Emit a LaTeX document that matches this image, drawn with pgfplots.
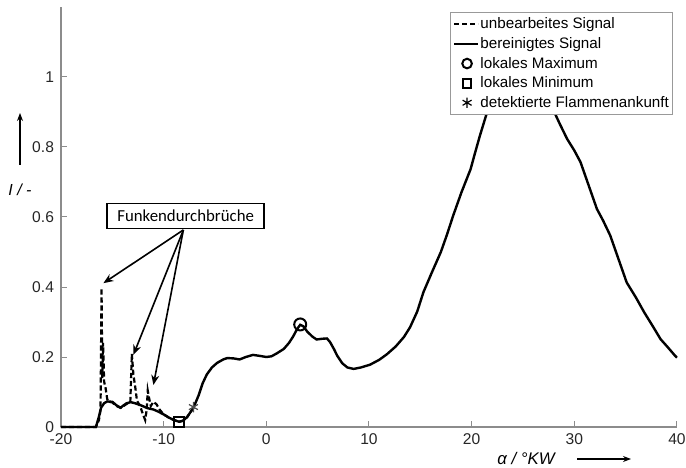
\documentclass[border=0pt]{standalone}
\usepackage{fontspec}
\setmainfont{Liberation Sans}
\newfontfamily\calibri{Carlito}
\usepackage{pgfplots}
\pgfplotsset{compat=1.18}
\usetikzlibrary{arrows.meta}
\pgfplotsset{
  lineleg/.style={legend image code/.code={\draw[##1] (0pt,0pt) -- (12pt,0pt);}},
  markleg/.style={legend image code/.code={\draw[##1,mark size=#1] plot coordinates {(6.5pt,0pt)};}},
  starleg/.style={legend image code/.code={\draw[##1,black,mark size=2.6pt] plot coordinates {(6.5pt,0pt)};}},
}
\begin{document}
\begin{tikzpicture}
\begin{axis}[
  scale only axis, width=308pt, height=210pt,
  xmin=-20, xmax=40, ymin=0, ymax=1.2,
  axis lines*=left,
  axis line style={black!45, line width=0.6pt},
  xtick={-20,-10,0,10,20,30,40},
  ytick={0,0.2,0.4,0.6,0.8,1},
  tick align=inside, major tick length=3pt,
  tick style={black!45, line width=0.5pt},
  tick label style={font=\fontsize{7.8}{9}\selectfont, text=black!85},
  /pgf/number format/assume math mode=true,
  clip=false,
  legend cell align=left,
  legend style={at={(rel axis cs:0.9935,0.988)}, anchor=north east,
    draw=black!40, fill=white, line width=0.5pt,
    font=\fontsize{7.6}{9}\selectfont,
    inner xsep=1.2pt, inner ysep=1pt, row sep=0pt,
    nodes={inner sep=0.6pt, text height=6.6pt, text depth=2pt},
    /tikz/every even column/.append style={column sep=0pt}},
]
\coordinate (BL) at (rel axis cs:0,0);
% unbearbeitetes Signal
\addplot[black, line width=1.1pt, dash pattern=on 2.6pt off 1.4pt, lineleg]
coordinates {
(-20,0) (-16.6,0) (-16.3,0.02) (-16.15,0.05) (-16.05,0.397) (-15.98,0.14)
(-15.9,0.24) (-15.8,0.13) (-15.65,0.11) (-15.5,0.08) (-15.3,0.072)
(-15.0,0.07) (-14.6,0.06) (-14.2,0.055) (-13.9,0.06) (-13.5,0.068)
(-13.25,0.07) (-13.1,0.209) (-12.95,0.15) (-12.75,0.11) (-12.6,0.075)
(-12.3,0.06) (-12.0,0.035) (-11.8,0.02) (-11.65,0.05) (-11.55,0.104)
(-11.4,0.08) (-11.25,0.06) (-11.0,0.072) (-10.7,0.065) (-10.4,0.05)
(-10.0,0.036) (-9.5,0.027) (-9.0,0.02) (-8.5,0.015) (-8.1,0.018)
(-7.7,0.029) (-7.1,0.055)
};
\addlegendentry{unbearbeites Signal}
% bereinigtes Signal
\addplot[black, line width=1.2pt, lineleg]
coordinates {
(-20,0) (-16.6,0) (-16.3,0.03) (-16.1,0.055) (-15.8,0.068) (-15.5,0.073)
(-15.0,0.072) (-14.6,0.062) (-14.2,0.055) (-13.9,0.062) (-13.6,0.068)
(-13.2,0.071) (-12.8,0.068) (-12.3,0.063) (-11.9,0.058) (-11.6,0.054)
(-11.0,0.05) (-10.6,0.045) (-10.0,0.036) (-9.5,0.027) (-9.0,0.02)
(-8.5,0.015) (-8.1,0.018) (-7.7,0.029) (-7.1,0.055) (-6.6,0.09)
(-6.2,0.125) (-5.8,0.15) (-5.3,0.17) (-4.8,0.183) (-4.2,0.193)
(-3.8,0.197) (-3.2,0.196) (-2.6,0.193) (-2.0,0.2) (-1.3,0.206)
(-0.6,0.203) (0.0,0.2) (0.5,0.202) (1.0,0.21) (1.7,0.223) (2.2,0.24)
(2.6,0.258) (3.0,0.28) (3.3,0.292) (3.6,0.288) (4.0,0.272) (4.5,0.258)
(4.9,0.25) (5.4,0.252) (5.9,0.253) (6.2,0.243) (6.6,0.222) (6.9,0.204)
(7.4,0.182) (7.9,0.17) (8.5,0.166) (9.2,0.17) (10.1,0.178) (11.0,0.192)
(11.75,0.208) (12.6,0.23) (13.4,0.257) (14.0,0.285) (14.7,0.33)
(15.3,0.385) (16.1,0.44) (17.0,0.5) (17.6,0.55) (18.2,0.604) (19.0,0.67)
(19.9,0.737) (20.3,0.78) (20.8,0.832) (21.3,0.88) (21.8,0.928)
(22.5,0.97) (23.2,1.0) (24.0,1.02) (24.8,1.03) (25.5,1.02) (26.3,0.99)
(27.1,0.95) (27.9,0.909) (28.6,0.865) (29.3,0.823) (30.0,0.79)
(30.6,0.757) (31.4,0.69) (32.2,0.623) (32.8,0.59) (33.5,0.547)
(34.3,0.48) (35.1,0.413) (36.0,0.37) (36.8,0.328) (37.6,0.29)
(38.4,0.251) (39.1,0.228) (39.8,0.204) (40,0.198)
};
\addlegendentry{bereinigtes Signal}
% lokales Maximum
\addplot[only marks, mark=o, mark size=3pt, black, line width=1pt, markleg=2.4pt]
coordinates {(3.3,0.293)};
\addlegendentry{lokales Maximum}
% lokales Minimum
\addplot[only marks, mark=square, mark size=2.5pt, black, line width=1pt, markleg=2.2pt]
coordinates {(-8.5,0.015)};
\addlegendentry{lokales Minimum}
% Flammenankunft
\addplot[only marks, mark=asterisk, mark size=2.6pt, black!70, line width=0.6pt, starleg]
coordinates {(-7.1,0.057)};
\addlegendentry{detektierte Flammenankunft}
% annotation
\node[draw, line width=0.9pt, fill=white, inner sep=0pt,
  font=\calibri\fontsize{8.4}{10}\selectfont,
  minimum height=12.5pt, minimum width=78.5pt] at (axis cs:-7.86,0.603) {Funkendurchbrüche};
\draw[-{Stealth[length=5pt,width=4pt]}, line width=0.8pt] (axis cs:-8.08,0.563) -- (axis cs:-15.87,0.411);
\draw[-{Stealth[length=5pt,width=4pt]}, line width=0.8pt] (axis cs:-8.08,0.563) -- (axis cs:-12.95,0.206);
\draw[-{Stealth[length=5pt,width=4pt]}, line width=0.8pt] (axis cs:-8.08,0.563) -- (axis cs:-11.0,0.12);
\end{axis}
% axis labels
\node[font=\fontsize{8}{9}\selectfont\itshape] at ([shift={(-20.5pt,118.5pt)}]BL) {I / -};
\draw[-{Stealth[length=4pt,width=3pt]}, line width=0.6pt] ([shift={(-20.5pt,131pt)}]BL) -- ([shift={(-20.5pt,157pt)}]BL);
\node[font=\fontsize{8.4}{9}\selectfont\itshape] at ([shift={(232.5pt,-15.8pt)}]BL) {α / °KW};
\draw[-{Stealth[length=4pt,width=3pt]}, line width=0.6pt] ([shift={(258pt,-16pt)}]BL) -- ([shift={(285pt,-16pt)}]BL);
\pgfresetboundingbox
\path[use as bounding box] ([shift={(-30.5pt,-20pt)}]BL) rectangle ([shift={(312.5pt,213.5pt)}]BL);
\end{tikzpicture}
\end{document}
